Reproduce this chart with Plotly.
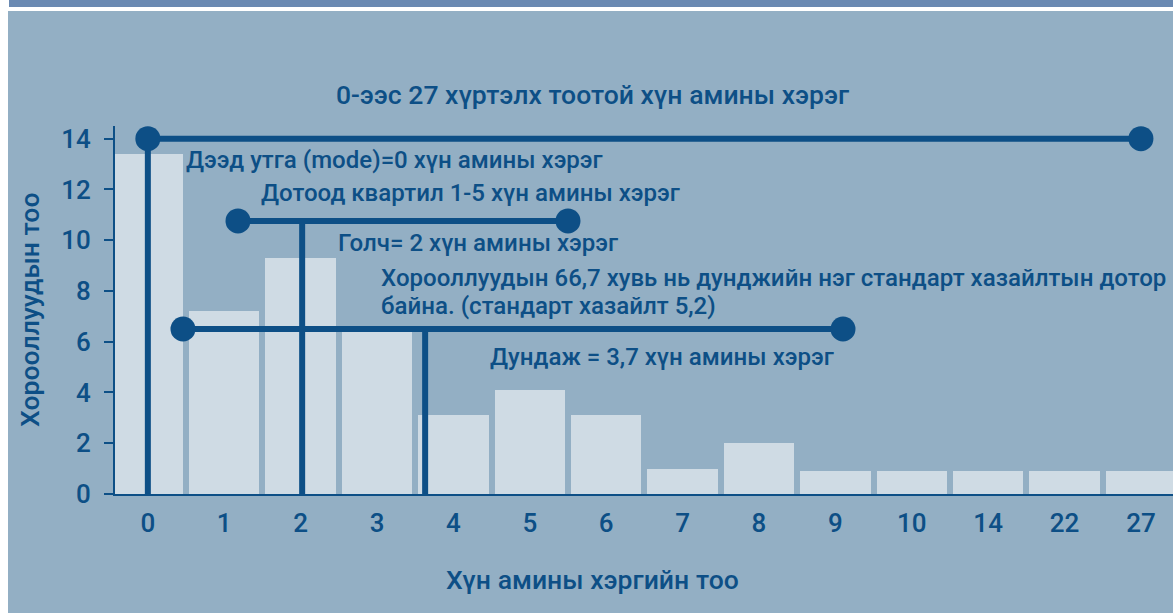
import plotly.graph_objects as go

# ── Data ───────────────────────────────────────────────────────────────────────
categories = ["0", "1", "2", "3", "4", "5", "6", "7", "8", "9", "10", "14", "22", "27"]
counts = [13.4, 7.2, 9.3, 6.4, 3.1, 4.1, 3.1, 1.0, 2.0, 0.9, 0.9, 0.9, 0.9, 0.9]
y_ticks = [0, 2, 4, 6, 8, 10, 12, 14]

# summary markers, in category-slot units along x
range_x = [0, 13]
range_y = 14
iqr_x = [1.18, 5.5]
iqr_y = 10.76
median_x = 2.02
sd_x = [0.46, 9.1]
sd_y = 6.5
mean_x = 3.63

# ── Colours ────────────────────────────────────────────────────────────────────
DARK = "#0d4f86"
BAR = "#cfdbe4"
BG = "#93afc4"
BAND = "#6a89b2"
FONT = "Roboto Medium, Roboto, Noto Sans, sans-serif"

W, H = 1173, 613
L, R, T, B = 115, 0, 126, 119
PW, PH = W - L - R, H - T - B


def px_x(p):
    return (p - L) / PW


def px_y(p):
    return (H - B - p) / PH


xpos = list(range(len(categories)))

fig = go.Figure()
fig.add_trace(go.Bar(
    x=xpos, y=counts, width=0.92,
    marker=dict(color=BAR, line=dict(width=0)),
    hoverinfo="skip",
))

# vertical drop lines (mode, median, mean)
for vx, vy in [(range_x[0], range_y), (median_x, iqr_y), (mean_x, sd_y)]:
    fig.add_trace(go.Scatter(
        x=[vx, vx], y=[0, vy], mode="lines",
        line=dict(color=DARK, width=6), hoverinfo="skip",
    ))

# horizontal spans with end dots
for hx, hy in [(range_x, range_y), (iqr_x, iqr_y), (sd_x, sd_y)]:
    fig.add_trace(go.Scatter(
        x=hx, y=[hy, hy], mode="lines+markers",
        line=dict(color=DARK, width=6),
        marker=dict(color=DARK, size=25),
        cliponaxis=False, hoverinfo="skip",
    ))

labels = [
    ("Дээд утга (mode)=0 хүн амины хэрэг", 187, 160),
    ("Дотоод квартил 1-5 хүн амины хэрэг", 262, 193),
    ("Голч= 2 хүн амины хэрэг", 339, 243),
    ("Хорооллуудын 66,7 хувь нь дунджийн нэг стандарт хазайлтын дотор", 382, 278),
    ("байна. (стандарт хазайлт 5,2)", 382, 306),
    ("Дундаж = 3,7 хүн амины хэрэг", 491, 357),
]
annotations = []
for text, lx, ly in labels:
    annotations.append(dict(
        text=text, xref="paper", yref="paper", x=px_x(lx - 3), y=px_y(ly),
        xanchor="left", yanchor="middle", showarrow=False,
        font=dict(size=24, color=DARK, family=FONT, weight=500),
    ))

annotations.append(dict(
    text="0-ээс 27 хүртэлх тоотой хүн амины хэрэг", xref="paper", yref="paper",
    x=px_x(592), y=px_y(95), xanchor="center", yanchor="middle", showarrow=False,
    font=dict(size=26.5, color=DARK, family=FONT, weight=500),
))
annotations.append(dict(
    text="Хүн амины хэргийн тоо", xref="paper", yref="paper",
    x=px_x(592), y=px_y(579), xanchor="center", yanchor="middle", showarrow=False,
    font=dict(size=26.5, color=DARK, family=FONT, weight=500),
))
annotations.append(dict(
    text="Хорооллуудын тоо", xref="paper", yref="paper", textangle=-90,
    x=px_x(29), y=px_y(310), xanchor="center", yanchor="middle", showarrow=False,
    font=dict(size=26.5, color=DARK, family=FONT, weight=500),
))

shapes = [
    dict(type="rect", xref="paper", yref="paper", layer="below",
         x0=px_x(8), x1=1.0, y0=px_y(H), y1=px_y(11),
         fillcolor=BG, line=dict(width=0)),
    dict(type="rect", xref="paper", yref="paper", layer="below",
         x0=px_x(9), x1=1.0, y0=px_y(7), y1=px_y(0),
         fillcolor=BAND, line=dict(width=0)),
]

fig.update_layout(
    width=W, height=H,
    margin=dict(l=L, r=R, t=T, b=B, pad=0),
    paper_bgcolor="white",
    plot_bgcolor="rgba(0,0,0,0)",
    showlegend=False,
    bargap=0,
    font=dict(family=FONT, color=DARK, size=26, weight=500),
    annotations=annotations,
    shapes=shapes,
    xaxis=dict(
        range=[-0.43, 13.42], tickvals=xpos, ticktext=categories,
        showgrid=False, zeroline=False, showline=True, linecolor=DARK, linewidth=2,
        ticks="", ticklabelstandoff=5,
        tickfont=dict(size=26, color=DARK, family=FONT, weight=500),
    ),
    yaxis=dict(
        range=[0, 14.5], tickvals=y_ticks,
        showgrid=False, zeroline=False, showline=True, linecolor=DARK, linewidth=2,
        ticks="outside", ticklen=9, tickwidth=2, tickcolor=DARK, ticklabelstandoff=8,
        tickfont=dict(size=26, color=DARK, family=FONT, weight=500),
    ),
)

# page has a default body margin; drop it so the figure sits at the top-left corner
fig.write_html(
    "out.html",
    config={"displayModeBar": False},
    post_script="document.body.style.margin='0';",
)
